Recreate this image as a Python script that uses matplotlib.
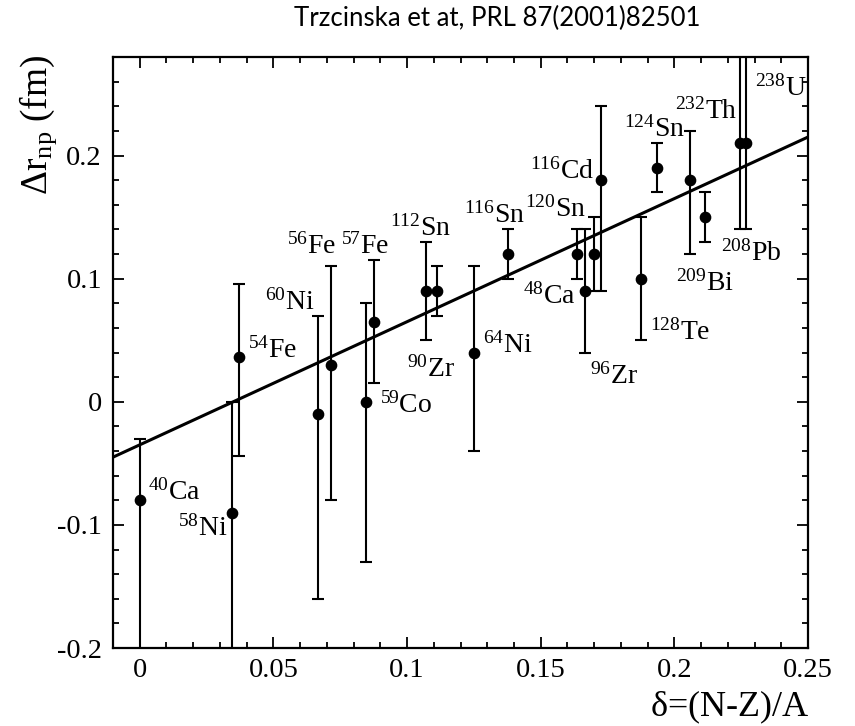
import matplotlib
matplotlib.use("Agg")
import matplotlib.pyplot as plt
from matplotlib.ticker import MultipleLocator, FuncFormatter
import numpy as np

plt.rcParams['font.family'] = ['Liberation Serif', 'DejaVu Serif']
plt.rcParams['mathtext.fontset'] = 'custom'
plt.rcParams['mathtext.rm'] = 'Liberation Serif'
plt.rcParams['mathtext.it'] = 'Liberation Serif:italic'
plt.rcParams['mathtext.default'] = 'regular'
plt.rcParams['axes.unicode_minus'] = False

# ---- data ----
nuclide = ['40Ca', '58Ni', '54Fe', '60Ni', '56Fe', '59Co', '57Fe', '112Sn', '90Zr',
           '64Ni', '116Sn', '48Ca', '96Zr', '120Sn', '116Cd', '128Te', '124Sn',
           '209Bi', '208Pb', '232Th', '238U']
delta = [0.0, 0.0345, 0.037, 0.0667, 0.0714, 0.0847, 0.0877, 0.1071, 0.1111,
         0.125, 0.1379, 0.1634, 0.1667, 0.170, 0.1724, 0.1875, 0.1935,
         0.2057, 0.2115, 0.2245, 0.2269]
drnp = [-0.08, -0.09, 0.036, -0.01, 0.03, 0.0, 0.065, 0.09, 0.09,
        0.04, 0.12, 0.12, 0.09, 0.12, 0.18, 0.10, 0.19,
        0.18, 0.15, 0.21, 0.21]
err_lo = [0.20, 0.20, 0.08, 0.15, 0.11, 0.13, 0.05, 0.04, 0.02,
          0.08, 0.02, 0.02, 0.05, 0.03, 0.09, 0.05, 0.02,
          0.06, 0.02, 0.07, 0.07]
err_hi = [0.05, 0.09, 0.06, 0.08, 0.08, 0.08, 0.05, 0.04, 0.02,
          0.07, 0.02, 0.02, 0.05, 0.03, 0.06, 0.05, 0.02,
          0.04, 0.02, 0.20, 0.20]

# linear fit line
fit_slope = 1.0
fit_intercept = -0.035
fit_range = [-0.01, 0.25]

# nuclide labels: (mass, symbol, x, y)
label_mass = ['40', '58', '54', '60', '56', '57', '112', '90', '59', '64', '116',
              '120', '48', '96', '116', '128', '124', '232', '209', '208', '238']
label_sym = ['Ca', 'Ni', 'Fe', 'Ni', 'Fe', 'Fe', 'Sn', 'Zr', 'Co', 'Ni', 'Sn',
             'Sn', 'Ca', 'Zr', 'Cd', 'Te', 'Sn', 'Th', 'Bi', 'Pb', 'U']
label_x = [0.0031, 0.0143, 0.0404, 0.0469, 0.055, 0.0753, 0.0935, 0.1001, 0.090,
           0.1284, 0.1213, 0.1441, 0.1433, 0.1685, 0.146, 0.1909, 0.181,
           0.2003, 0.2005, 0.2173, 0.2303]
label_y = [-0.0794, -0.109, 0.0359, 0.0746, 0.1205, 0.1205, 0.1353, 0.0205, -0.0092,
           0.0402, 0.1456, 0.150, 0.080, 0.0151, 0.1813, 0.0502, 0.2156,
           0.23, 0.090, 0.1145, 0.2488]

x_ticks = [0, 0.05, 0.1, 0.15, 0.2, 0.25]
y_ticks = [-0.2, -0.1, 0, 0.1, 0.2]

# ---- figure ----
fig = plt.figure(figsize=(8.55, 7.26), dpi=100)
ax = fig.add_axes([113/855, 1-648/726, (808-113)/855, (648-57)/726])

ax.errorbar(delta, drnp, yerr=[err_lo, err_hi], fmt='o', color='k',
            ms=7.4, elinewidth=1.5, capsize=4.5, capthick=1.5, zorder=3)

fx = np.array(fit_range)
ax.plot(fx, fit_intercept + fit_slope * fx, color='k', lw=2.2, zorder=2)

for m, s, x, y in zip(label_mass, label_sym, label_x, label_y):
    ax.text(x, y, r'$^{%s}$%s' % (m, s), fontsize=20, ha='left', va='baseline')

ax.set_xlim(-0.01, 0.25)
ax.set_ylim(-0.2, 0.28)
ax.set_xticks(x_ticks)
ax.set_yticks(y_ticks)
ax.xaxis.set_minor_locator(MultipleLocator(0.01))
ax.yaxis.set_minor_locator(MultipleLocator(0.02))
fmt = FuncFormatter(lambda v, p: ('%g' % round(v, 4)))
ax.xaxis.set_major_formatter(fmt)
ax.yaxis.set_major_formatter(fmt)
ax.tick_params(which='both', direction='in', top=True, right=True, width=1.3)
ax.tick_params(which='major', length=8, labelsize=20.5)
ax.tick_params(which='minor', length=4)
ax.tick_params(axis='x', which='major', pad=7)
ax.tick_params(axis='y', which='major', pad=8)
for sp in ax.spines.values():
    sp.set_linewidth(1.6)

fig.text(47/855, 1-55/726, r'$\Delta$r$_{\mathrm{np}}$ (fm)', rotation=90,
         rotation_mode='anchor', ha='right', va='baseline', fontsize=27)
fig.text(810/855, 1-716/726, r'$\delta$=(N-Z)/A', ha='right', va='baseline', fontsize=26)
fig.text(497/855, 1-26/726, 'Trzcinska et at, PRL 87(2001)82501', ha='center',
         va='baseline', fontsize=18.5, family=['Lato', 'DejaVu Sans'])

fig.savefig('out.png', dpi=100)
